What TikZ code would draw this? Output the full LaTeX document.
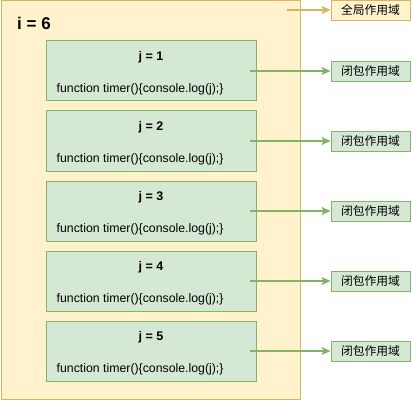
\documentclass[tikz,border=0pt]{standalone}
\usepackage{fontspec}
\setmainfont{Liberation Sans}
\newfontfamily\cjk{Noto Sans CJK SC}
\usetikzlibrary{arrows.meta,positioning}
\definecolor{yfill}{HTML}{FFF2CC}
\definecolor{ystroke}{HTML}{D6B656}
\definecolor{gfill}{HTML}{D5E8D4}
\definecolor{gstroke}{HTML}{82B366}
\tikzset{
  tagbase/.style={minimum width=79pt,minimum height=20pt,inner sep=0pt,line width=0.8pt,
    font=\cjk\fontsize{11.8}{12}\selectfont},
  globaltag/.style={tagbase,draw=ystroke,fill=yfill},
  closuretag/.style={tagbase,draw=gstroke,fill=gfill},
  link/.style={draw=#1,line width=1.6pt,-{Stealth[length=9pt,width=8pt,inset=2pt]}}
}
\begin{document}
\begin{tikzpicture}[x=1pt,y=-1pt,
  outer/.style={draw=ystroke,fill=yfill,line width=1pt,anchor=north west,
    minimum width=299pt,minimum height=398pt,inner sep=0pt},
  closure/.style={draw=gstroke,fill=gfill,line width=1pt,anchor=north west,
    minimum width=210pt,minimum height=60pt,inner sep=0pt}]
\useasboundingbox (0,0) rectangle (412,401);
\node[outer] (glob) at (0.5,0.5) {};
\node[font=\bfseries\fontsize{17}{20}\selectfont,anchor=west,inner sep=0pt] (ival) at (17,23) {i = 6};
\node[globaltag] (gtag) at (370.5,10) {全局作用域};
\coordinate (gstart) at (287,10);
\draw[link=ystroke] (gstart) -- (gtag);
\foreach \j in {1,...,5}{
  \node[closure] (box\j) at (45.5,{40.5+70*(\j-1)}) {};
  \node[font=\bfseries\fontsize{12.5}{14}\selectfont] (jval\j) at ([yshift=-17pt]box\j.north) {j = \j};
  \node[font=\fontsize{12.3}{14}\selectfont,anchor=west,inner sep=0pt] (fn\j)
    at ([xshift=11pt,yshift=-18pt]box\j.west) {function timer()\{console.log(j);\}};
  \node[closuretag] (ctag\j) at (370.5,{71+70*(\j-1)}) {闭包作用域};
  \draw[link=gstroke] ([xshift=-7pt]box\j.east) -- (ctag\j);
}
\end{tikzpicture}
\end{document}
